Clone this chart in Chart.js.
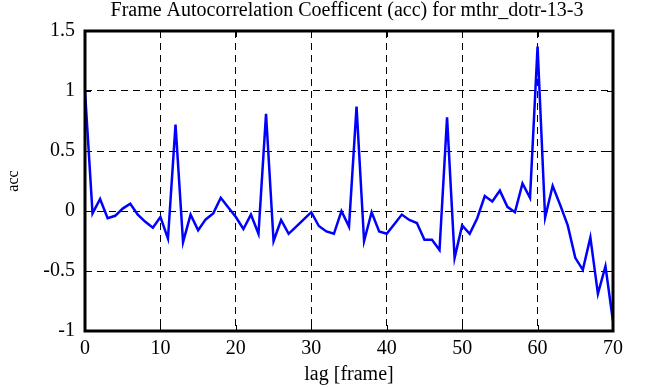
<!DOCTYPE html>
<html>
<head>
<meta charset="utf-8">
<script src="https://cdn.jsdelivr.net/npm/chart.js@4.4.1/dist/chart.umd.min.js"></script>
<style>
html,body{margin:0;padding:0;background:#fff;}
#wrap{width:646px;height:387px;position:relative;}
</style>
</head>
<body>
<div id="wrap"><canvas id="c" width="646" height="387"></canvas></div>
<script>
const lags = [];
for (let i = 0; i <= 70; i++) lags.push(i);
const accValues = [
  1.0, -0.02, 0.10, -0.06, -0.04, 0.02, 0.06, -0.03, -0.09, -0.14,
  -0.05, -0.23, 0.72, -0.26, -0.03, -0.16, -0.07, -0.02, 0.11, 0.03,
  -0.05, -0.15, -0.03, -0.19, 0.81, -0.25, -0.075, -0.19, -0.13, -0.07,
  -0.01, -0.125, -0.17, -0.19, 0.0, -0.13, 0.87, -0.25, -0.01, -0.17,
  -0.19, -0.11, -0.03, -0.075, -0.10, -0.24, -0.24, -0.325, 0.78, -0.39,
  -0.12, -0.19, -0.06, 0.125, 0.08, 0.17, 0.035, -0.01, 0.23, 0.11,
  1.37, -0.055, 0.21, 0.05, -0.12, -0.39, -0.49, -0.22, -0.69, -0.46,
  -0.92
];
const xTicks = [0, 10, 20, 30, 40, 50, 60, 70];
const yTicks = [-1, -0.5, 0, 0.5, 1, 1.5];
const titleText = 'Frame Autocorrelation Coefficent (acc) for mthr_dotr-13-3';
const xLabel = 'lag [frame]';
const yLabel = 'acc';

const FONT = 'Liberation Serif, Times New Roman, serif';

const framePlugin = {
  id: 'frame',
  afterDraw(chart) {
    const {ctx, chartArea: a, scales} = chart;
    ctx.save();
    ctx.strokeStyle = '#000';
    ctx.lineWidth = 1;
    const tl = 6;
    ctx.beginPath();
    xTicks.forEach(v => {
      const x = Math.round(scales.x.getPixelForValue(v)) + 0.5;
      ctx.moveTo(x, a.bottom); ctx.lineTo(x, a.bottom - tl);
      ctx.moveTo(x, a.top); ctx.lineTo(x, a.top + tl);
    });
    yTicks.forEach(v => {
      const y = Math.round(scales.y.getPixelForValue(v)) + 0.5;
      ctx.moveTo(a.left, y); ctx.lineTo(a.left + tl, y);
      ctx.moveTo(a.right, y); ctx.lineTo(a.right - tl, y);
    });
    ctx.stroke();
    ctx.lineWidth = 3;
    ctx.strokeRect(a.left, a.top, a.right - a.left, a.bottom - a.top);
    // title
    ctx.fillStyle = '#000';
    ctx.font = '20px ' + FONT;
    ctx.textAlign = 'center';
    ctx.textBaseline = 'middle';
    ctx.fillText(titleText, 347, 11);
    ctx.restore();
  }
};

new Chart(document.getElementById('c'), {
  type: 'line',
  data: {
    labels: lags,
    datasets: [{
      data: lags.map((l, i) => ({x: l, y: accValues[i]})),
      borderColor: '#0000ff',
      borderWidth: 2.5,
      pointRadius: 0,
      tension: 0,
      fill: false
    }]
  },
  options: {
    responsive: false,
    animation: false,
    events: [],
    layout: {padding: {left: 0, right: 33, top: 31, bottom: 0}},
    plugins: {
      legend: {display: false},
      tooltip: {enabled: false},
      title: {display: false}
    },
    scales: {
      x: {
        type: 'linear',
        min: 0, max: 70,
        afterFit(s) { s.height = 56; },
        afterBuildTicks(s) { s.ticks = xTicks.map(v => ({value: v})); },
        ticks: {color: '#000', font: {family: FONT, size: 20}, padding: 6, maxRotation: 0,
                callback: v => String(v)},
        grid: {color: '#000', lineWidth: 1, drawTicks: false},
        border: {display: false, dash: [7, 5]},
        title: {display: true, text: xLabel, color: '#000', font: {family: FONT, size: 20}, padding: {top: 8, bottom: 0}}
      },
      y: {
        type: 'linear',
        min: -1, max: 1.5,
        afterFit(s) { s.width = 85; },
        afterBuildTicks(s) { s.ticks = yTicks.map(v => ({value: v})); },
        ticks: {color: '#000', font: {family: FONT, size: 20}, padding: 10,
                callback: v => String(v)},
        grid: {color: '#000', lineWidth: 1, drawTicks: false},
        border: {display: false, dash: [7, 5]},
        title: {display: true, text: yLabel, color: '#000', font: {family: FONT, size: 16}, padding: {top: 4, bottom: 0}}
      }
    }
  },
  plugins: [framePlugin]
});
</script>
</body>
</html>
